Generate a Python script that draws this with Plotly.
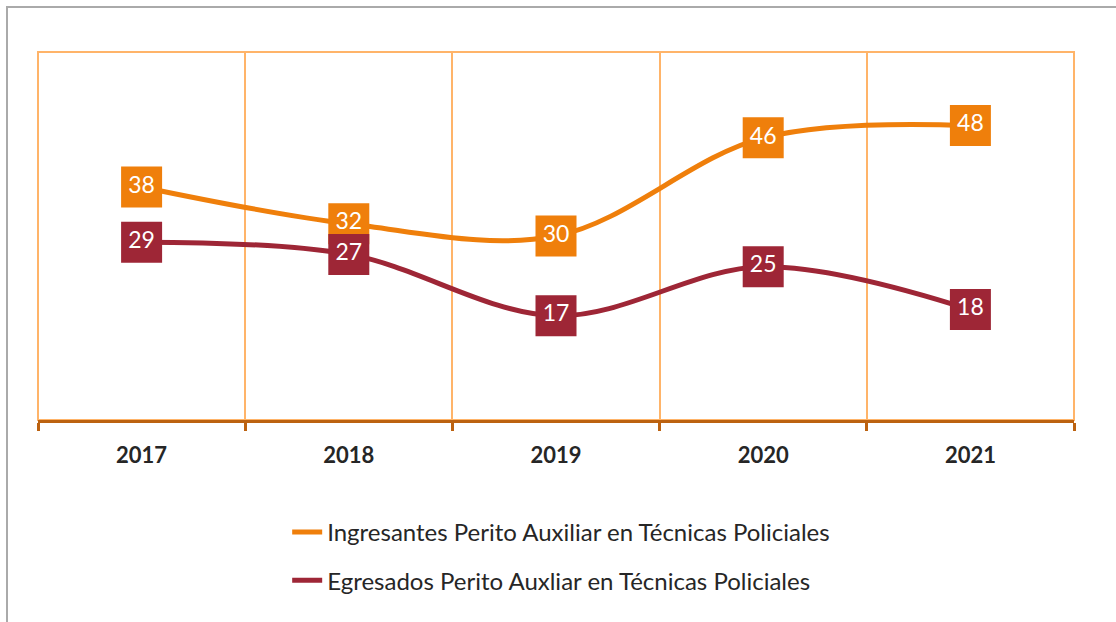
import plotly.graph_objects as go

years = ["2017", "2018", "2019", "2020", "2021"]
ingresantes = [38, 32, 30, 46, 48]
egresados = [29, 27, 17, 25, 18]
name_ing = "Ingresantes Perito Auxiliar en Técnicas Policiales"
name_egr = "Egresados Perito Auxliar en Técnicas Policiales"

ORANGE = "#EF7F0B"
RED = "#9E2636"
GRID = "#FFB469"
AXIS = "#BC6210"

fig = go.Figure()
for name, vals, col, grp in [(name_ing, ingresantes, ORANGE, "a"), (name_egr, egresados, RED, "b")]:
    fig.add_trace(go.Scatter(
        x=years, y=vals, name=name, legendgroup=grp, showlegend=False,
        mode="lines+markers+text",
        line=dict(color=col, width=5, shape="spline", smoothing=1.0),
        marker=dict(symbol="square", size=41, color=col, line=dict(width=0)),
        text=[str(v) for v in vals], textposition="middle center",
        textfont=dict(color="white", size=23, family="Lato"),
        cliponaxis=False,
    ))
# legend-only entries (line symbol only)
for name, col, grp in [(name_ing, ORANGE, "a"), (name_egr, RED, "b")]:
    fig.add_trace(go.Scatter(
        x=[None], y=[None], name=name, legendgroup=grp, mode="lines",
        line=dict(color=col, width=5),
    ))

L, R, T, B = 38, 42, 52, 202
W, H = 1116, 622
pw, ph = W - L - R, H - T - B
def px(x): return (x - L) / pw
def py(y): return (H - B - y) / ph

fig.update_layout(
    width=W, height=H,
    margin=dict(l=L, r=R, t=T, b=B),
    paper_bgcolor="white", plot_bgcolor="white",
    showlegend=True,
    legend=dict(
        x=0.505, xanchor="center", y=py(510), yanchor="top",
        orientation="v", traceorder="grouped", tracegroupgap=14,
        font=dict(family="Lato", size=24, color="#262626"),
    ),
    xaxis=dict(
        type="category", tickson="boundaries", range=[-0.5, 4.5],
        showgrid=True, gridcolor=GRID, gridwidth=2,
        showline=True, linecolor=AXIS, linewidth=3,
        ticks="outside", ticklen=8, tickwidth=3, tickcolor=AXIS,
        ticklabelstandoff=14,
        tickfont=dict(family="Lato", size=22, color="#262626", weight="bold"),
        zeroline=False,
    ),
    yaxis=dict(
        range=[0, 60], showticklabels=False, showgrid=False,
        zeroline=False, showline=False,
    ),
    shapes=[
        dict(type="rect", xref="paper", yref="paper", x0=0, x1=1, y0=0, y1=1,
             line=dict(color=GRID, width=2), layer="below"),
        dict(type="path", xref="paper", yref="paper",
             path=f"M {px(7)} {py(622)} L {px(7)} {py(7)} L {px(1116)} {py(7)}",
             line=dict(color="#AAAAAA", width=2)),
    ],
)

fig.write_html("out.html", config={"displayModeBar": False},
               post_script="document.body.style.margin='0';document.body.style.overflow='hidden';")
